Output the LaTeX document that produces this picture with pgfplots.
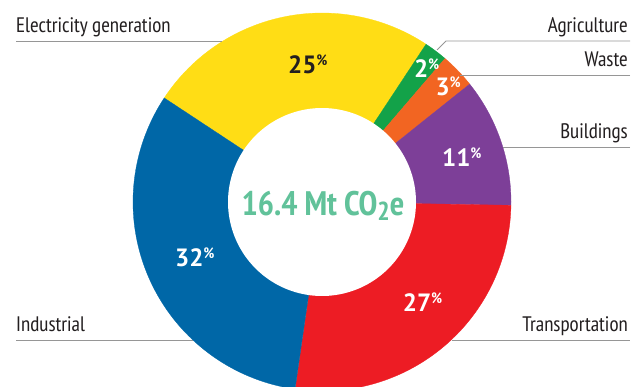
\documentclass[border=0pt]{standalone}
\usepackage{pgfplots}
\pgfplotsset{compat=1.18}
\usepackage{pgfplotstable}
\usepackage{fontspec}
\setmainfont{PT Sans Narrow}
\newfontfamily\pctfont{PT Sans}
\definecolor{cElec}{RGB}{255,221,21}
\definecolor{cAgri}{RGB}{19,162,73}
\definecolor{cWaste}{RGB}{242,101,34}
\definecolor{cBuild}{RGB}{125,63,152}
\definecolor{cTrans}{RGB}{237,28,36}
\definecolor{cInd}{RGB}{0,103,167}
\definecolor{cCenter}{RGB}{97,194,154}
\definecolor{cText}{RGB}{35,31,32}
\definecolor{cLine}{RGB}{150,150,150}
\pgfplotstableread{
sector pct
Electricity 25
Agriculture 2
Waste 3
Buildings 11
Transportation 27
Industrial 32
}\shares
\newcommand\lbl[1]{{\fontsize{21bp}{24bp}\selectfont #1}}
\newcommand\pct[1]{{\pctfont\fontsize{25bp}{28bp}\selectfont\bfseries #1}{\fontsize{15bp}{16bp}\selectfont\bfseries\raisebox{8bp}{\%}}}
\begin{document}
\begin{tikzpicture}
\useasboundingbox (0,0) rectangle (642bp,387bp);
\pgfmathsetmacro\aA{146.6}
\pgfplotstablegetelem{0}{pct}\of\shares \pgfmathsetmacro\aB{\aA-3.6*\pgfplotsretval}
\pgfplotstablegetelem{1}{pct}\of\shares \pgfmathsetmacro\aC{\aB-3.6*\pgfplotsretval}
\pgfplotstablegetelem{2}{pct}\of\shares \pgfmathsetmacro\aD{\aC-3.6*\pgfplotsretval}
\pgfplotstablegetelem{3}{pct}\of\shares \pgfmathsetmacro\aE{\aD-3.6*\pgfplotsretval}
\pgfplotstablegetelem{4}{pct}\of\shares \pgfmathsetmacro\aF{\aE-3.6*\pgfplotsretval}
\pgfplotstablegetelem{5}{pct}\of\shares \pgfmathsetmacro\aG{\aF-3.6*\pgfplotsretval}
\begin{axis}[
  at={(0,0)}, anchor=south west,
  width=642bp, height=387bp, scale only axis,
  xmin=0, xmax=642, ymin=0, ymax=387, y dir=reverse,
  hide axis, clip=true,
]
% sectors (outer radius 189, centre 322,202)
\addplot[draw=cElec, line width=0.3pt, fill=cElec, domain=\aB:\aA, samples=80, variable=\t] ({322+189*cos(\t)},{202-189*sin(\t)}) -- (axis cs:322,202) -- cycle;
\addplot[draw=cAgri, line width=0.3pt, fill=cAgri, domain=\aC:\aB, samples=20, variable=\t] ({322+189*cos(\t)},{202-189*sin(\t)}) -- (axis cs:322,202) -- cycle;
\addplot[draw=cWaste, line width=0.3pt, fill=cWaste, domain=\aD:\aC, samples=20, variable=\t] ({322+189*cos(\t)},{202-189*sin(\t)}) -- (axis cs:322,202) -- cycle;
\addplot[draw=cBuild, line width=0.3pt, fill=cBuild, domain=\aE:\aD, samples=40, variable=\t] ({322+189*cos(\t)},{202-189*sin(\t)}) -- (axis cs:322,202) -- cycle;
\addplot[draw=cTrans, line width=0.3pt, fill=cTrans, domain=\aF:\aE, samples=80, variable=\t] ({322+189*cos(\t)},{202-189*sin(\t)}) -- (axis cs:322,202) -- cycle;
\addplot[draw=cInd, line width=0.3pt, fill=cInd, domain=\aG:\aF, samples=80, variable=\t] ({322+189*cos(\t)},{202-189*sin(\t)}) -- (axis cs:322,202) -- cycle;
% hole
\addplot[draw=none, fill=white, domain=0:360, samples=160, variable=\t] ({322+94*cos(\t)},{202-94*sin(\t)});
% leader lines
\draw[cLine, line width=0.9pt] (axis cs:16,41) -- (axis cs:222,41);
\draw[cLine, line width=0.9pt] (axis cs:630,41) -- (axis cs:446,41) -- (axis cs:437,50);
\draw[cLine, line width=0.9pt] (axis cs:630,75) -- (axis cs:460,75);
\draw[cLine, line width=0.9pt] (axis cs:630,147) -- (axis cs:503,147);
\draw[cLine, line width=0.9pt] (axis cs:16,340) -- (axis cs:193,340);
\draw[cLine, line width=0.9pt] (axis cs:452,340) -- (axis cs:630,340);
% category labels
\node[anchor=base west, inner sep=0, text=cText] at (axis cs:16,32) {\lbl{Electricity generation}};
\node[anchor=base east, inner sep=0, text=cText] at (axis cs:628,32) {\lbl{Agriculture}};
\node[anchor=base east, inner sep=0, text=cText] at (axis cs:628,66) {\lbl{Waste}};
\node[anchor=base east, inner sep=0, text=cText] at (axis cs:628,138) {\lbl{Buildings}};
\node[anchor=base west, inner sep=0, text=cText] at (axis cs:16,331.5) {\lbl{Industrial}};
\node[anchor=base east, inner sep=0, text=cText] at (axis cs:628,331) {\lbl{Transportation}};
% percentages
\node[anchor=base west, inner sep=0, text=cText] at (axis cs:288,73.3) {\pct{25}};
\node[anchor=base west, inner sep=0, text=white] at (axis cs:414,77.3) {\pct{2}};
\node[anchor=base west, inner sep=0, text=white] at (axis cs:435.5,95) {\pct{3}};
\node[anchor=base west, inner sep=0, text=white] at (axis cs:442,166) {\pct{11}};
\node[anchor=base west, inner sep=0, text=white] at (axis cs:175,266.7) {\pct{32}};
\node[anchor=base west, inner sep=0, text=white] at (axis cs:402.7,311.7) {\pct{27}};
% centre
\node[anchor=base, inner sep=0, text=cCenter] at (axis cs:323,215) {\fontsize{34bp}{36bp}\selectfont\bfseries 16.4 Mt CO\raisebox{-5bp}{\fontsize{26bp}{28bp}\selectfont 2}e};
\end{axis}
\end{tikzpicture}
\end{document}
